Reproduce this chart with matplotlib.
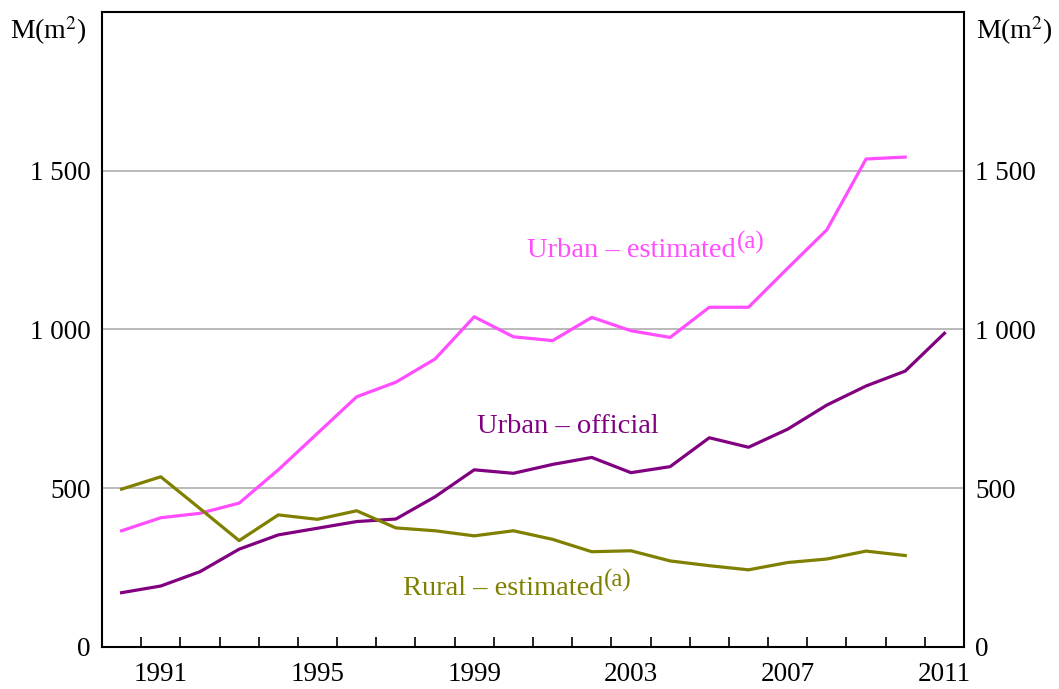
import matplotlib
matplotlib.use("Agg")
import matplotlib.pyplot as plt
from matplotlib.ticker import FixedLocator, NullFormatter

plt.rcParams['font.family'] = ['Liberation Serif', 'DejaVu Serif']
plt.rcParams['mathtext.fontset'] = 'stix'

# Floor space, million square metres
years = list(range(1990, 2012))
urban_estimated = [366, 407, 421, 453, 558, 673, 788, 834, 907, 1040, 977, 965,
                   1038, 996, 975, 1070, 1070, 1193, 1314, 1537, 1543]
urban_official = [171, 192, 237, 308, 353, 374, 395, 403, 473, 558, 547, 575,
                  597, 549, 568, 659, 629, 686, 762, 822, 869, 988]
rural_estimated = [497, 536, 436, 335, 416, 402, 429, 375, 366, 350, 366, 339,
                   300, 303, 271, 256, 243, 266, 277, 302, 288]

year_labels = [1991, 1995, 1999, 2003, 2007, 2011]
y_ticks = [0, 500, 1000, 1500]
y_labels = ['0', '500', '1 000', '1 500']

pink = '#ff4dff'
purple = '#800080'
olive = '#808000'

fig = plt.figure(figsize=(10.59, 6.89), dpi=100)
ax = fig.add_axes([0.0963, 0.061, 0.814, 0.9216])

ax.plot(years[:len(urban_estimated)], urban_estimated, color=pink, lw=2.3)
ax.plot(years[:len(urban_official)], urban_official, color=purple, lw=2.3)
ax.plot(years[:len(rural_estimated)], rural_estimated, color=olive, lw=2.3)

ax.set_xlim(1989.5, 2011.5)
ax.set_ylim(0, 2000)

# x: tick marks at year boundaries, labels at year centres
ax.xaxis.set_major_locator(FixedLocator([y + 0.5 for y in range(1990, 2011)]))
ax.xaxis.set_major_formatter(NullFormatter())
ax.xaxis.set_minor_locator(FixedLocator(year_labels))
ax.set_xticklabels([str(y) for y in year_labels], minor=True)
ax.tick_params(axis='x', which='major', direction='in', length=7, width=1.2)
ax.tick_params(axis='x', which='minor', length=0, pad=11, labelsize=19.5)

ax.set_yticks(y_ticks)
ax.set_yticklabels(y_labels)
ax.tick_params(axis='y', length=0, labelsize=19.5, pad=8,
               labelleft=True, labelright=True)
ax.grid(axis='y', color='#b4b4b4', lw=1.3)
ax.set_axisbelow(True)

for s in ax.spines.values():
    s.set_linewidth(1.5)
    s.set_color('black')

fig.text(0.009, 0.955, 'M(m$^2$)', fontsize=20, ha='left', va='center')
fig.text(0.922, 0.955, 'M(m$^2$)', fontsize=20, ha='left', va='center')


def label(x, y, text, color, note=False):
    t = ax.text(x, y, text, color=color, fontsize=20.5, ha='left', va='baseline')
    if note:
        ax.annotate('(a)', xy=(1.0, 1.0), xycoords=t, xytext=(0.5, -3),
                    textcoords='offset points', color=color, fontsize=18,
                    ha='left', va='center')


label(2000.35, 1228, 'Urban – estimated', pink, note=True)
label(1999.06, 673, 'Urban – official', purple)
label(1997.18, 164, 'Rural – estimated', olive, note=True)

fig.savefig('out.png', dpi=100)
